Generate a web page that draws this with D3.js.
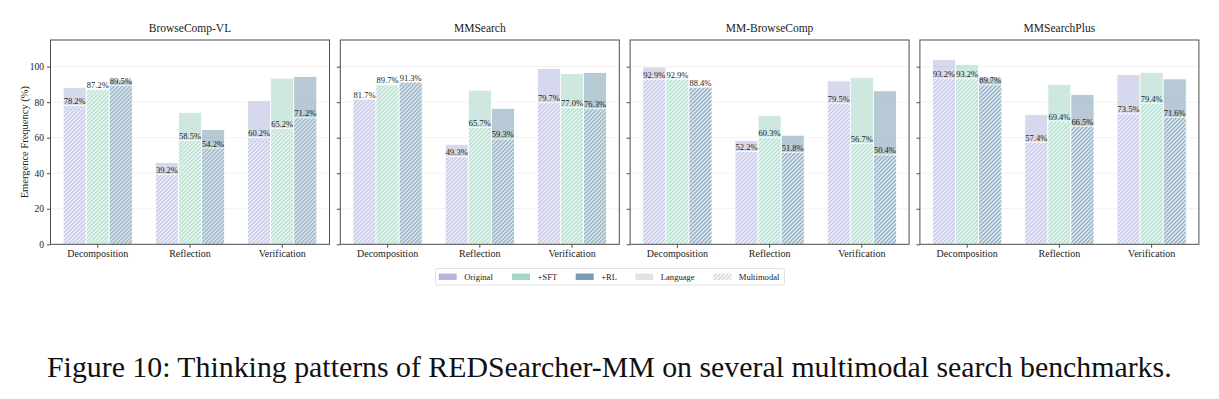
<!DOCTYPE html>
<html lang="en">
  <head>
    <meta charset="utf-8" />
    <title>Thinking patterns of REDSearcher-MM</title>
    <script src="https://cdn.jsdelivr.net/npm/d3@7"></script>
    <style>
      body {
        margin: 0;
        background: #fff;
      }
      svg,
      svg text {
        font-family: "Liberation Serif", "DejaVu Serif", serif;
      }
      .axis path,
      .axis line {
        stroke: #4d4d4d;
      }
      .axis text {
        font-family: "Liberation Serif", serif;
        font-size: 9.5px;
        fill: #222;
      }
    </style>
  </head>

  <body>
    <svg id="chart"></svg>

    <script>
      const benchmarks = ["BrowseComp-VL", "MMSearch", "MM-BrowseComp", "MMSearchPlus"];
      const categories = ["Decomposition", "Reflection", "Verification"];
      const methods = ["Original", "+SFT", "+RL"];
      const yTicks = [0, 20, 40, 60, 80, 100];

      // [category][method] — language (light bar) and multimodal (hatched, labelled)
      const browseCompVLLanguage = [[88.2, 87.5, 92.5], [46.1, 74.1, 64.6], [80.8, 93.5, 94.4]];
      const browseCompVLMultimodal = [[78.2, 87.2, 89.5], [39.2, 58.5, 54.2], [60.2, 65.2, 71.2]];

      const mmSearchLanguage = [[82.1, 89.8, 91.5], [56.1, 86.8, 76.5], [98.9, 96.1, 96.7]];
      const mmSearchMultimodal = [[81.7, 89.7, 91.3], [49.3, 65.7, 59.3], [79.7, 77.0, 76.3]];

      const mmBrowseCompLanguage = [[99.8, 93.3, 88.8], [58.4, 72.6, 61.4], [92.0, 94.0, 86.4]];
      const mmBrowseCompMultimodal = [[92.9, 92.9, 88.4], [52.2, 60.3, 51.8], [79.5, 56.7, 50.4]];

      const mmSearchPlusLanguage = [[104.1, 101.1, 93.7], [73.1, 90.1, 84.3], [95.5, 96.8, 93.1]];
      const mmSearchPlusMultimodal = [[93.2, 93.2, 89.7], [57.4, 69.4, 66.5], [73.5, 79.4, 71.6]];

      const languageData = [browseCompVLLanguage, mmSearchLanguage, mmBrowseCompLanguage, mmSearchPlusLanguage];
      const multimodalData = [browseCompVLMultimodal, mmSearchMultimodal, mmBrowseCompMultimodal, mmSearchPlusMultimodal];

      const colors = ["#b5b9df", "#a6d6c4", "#7a9cb3"];

      const W = 1219;
      const H = 399;
      const panel = { left: 50.5, top: 40, width: 279, height: 204.3, step: 289.8 };

      const svg = d3.select("#chart").attr("width", W).attr("height", H);

      // hatch patterns
      const defs = svg.append("defs");
      function hatch(id, base) {
        const p = defs
          .append("pattern")
          .attr("id", id)
          .attr("patternUnits", "userSpaceOnUse")
          .attr("width", 4)
          .attr("height", 4);
        p.append("rect").attr("width", 4).attr("height", 4).attr("fill", "#fff");
        p.append("rect").attr("width", 4).attr("height", 4).attr("fill", base).attr("fill-opacity", 0.78);
        p.append("path")
          .attr("d", "M-1,1 l2,-2 M0,4 l4,-4 M3,5 l2,-2")
          .attr("stroke", "#fff")
          .attr("stroke-width", 1.2)
          .attr("stroke-opacity", 0.9);
      }
      colors.forEach((c, i) => hatch("hatch" + i, c));
      hatch("hatchGray", "#d0d0d0");

      const y = d3.scaleLinear().domain([0, 115]).range([panel.height, 0]);
      const x = d3.scaleBand().domain(categories).range([0, panel.width]).paddingInner(0.25).paddingOuter(0.1375);
      const xm = d3.scaleBand().domain(methods).range([0, x.bandwidth()]);

      benchmarks.forEach((name, bi) => {
        const g = svg
          .append("g")
          .attr("transform", `translate(${panel.left + bi * panel.step},${panel.top})`);

        // faint grid
        g.selectAll("line.grid")
          .data(yTicks.slice(1))
          .join("line")
          .attr("class", "grid")
          .attr("x1", 0)
          .attr("x2", panel.width)
          .attr("y1", d => y(d))
          .attr("y2", d => y(d))
          .attr("stroke", "#eeeeee")
          .attr("stroke-width", 0.8);

        const cells = [];
        categories.forEach((cat, ci) => {
          methods.forEach((m, mi) => {
            cells.push({
              cat,
              m,
              mi,
              lang: languageData[bi][ci][mi],
              mm: multimodalData[bi][ci][mi]
            });
          });
        });

        const bx = d => x(d.cat) + xm(d.m);

        // language bars (light)
        g.selectAll("rect.lang")
          .data(cells)
          .join("rect")
          .attr("class", "lang")
          .attr("x", bx)
          .attr("width", xm.bandwidth())
          .attr("y", d => y(d.lang))
          .attr("height", d => y(0) - y(d.lang))
          .attr("fill", d => colors[d.mi])
          .attr("fill-opacity", 0.55)
          .attr("stroke", "#fff")
          .attr("stroke-width", 0.8);

        // multimodal bars (hatched)
        g.selectAll("rect.mm")
          .data(cells)
          .join("rect")
          .attr("class", "mm")
          .attr("x", bx)
          .attr("width", xm.bandwidth())
          .attr("y", d => y(d.mm))
          .attr("height", d => y(0) - y(d.mm))
          .attr("fill", d => `url(#hatch${d.mi})`)
          .attr("stroke", "#fff")
          .attr("stroke-width", 0.8);

        // labels
        g.selectAll("text.val")
          .data(cells)
          .join("text")
          .attr("class", "val")
          .attr("x", d => bx(d) + xm.bandwidth() / 2)
          .attr("y", d => y(d.mm) - 1.5)
          .attr("text-anchor", "middle")
          .attr("font-size", 8.5)
          .attr("fill", "#222")
          .text(d => d.mm.toFixed(1) + "%");

        // frame
        g.append("rect")
          .attr("width", panel.width)
          .attr("height", panel.height)
          .attr("fill", "none")
          .attr("stroke", "#4d4d4d")
          .attr("stroke-width", 1);

        const yaxis = d3.axisLeft(y).tickValues(yTicks).tickSize(3.5).tickPadding(3);
        const gy = g.append("g").attr("class", "axis").call(yaxis);
        gy.attr("font-family", null);
        gy.select(".domain").remove();
        if (bi > 0) gy.selectAll("text").remove();

        const xaxis = d3.axisBottom(x).tickSize(3.5).tickPadding(2);
        const gx = g.append("g").attr("class", "axis").attr("transform", `translate(0,${panel.height})`).call(xaxis);
        gx.attr("font-family", null);
        gx.select(".domain").remove();
        gx.selectAll("text").style("font-size", "10px");

        g.append("text")
          .attr("x", panel.width / 2)
          .attr("y", -8)
          .attr("text-anchor", "middle")
          .attr("font-size", 11.5)
          .attr("fill", "#222")
          .text(name);
      });

      // y label
      svg.append("text")
        .attr("transform", `translate(28,${panel.top + panel.height / 2}) rotate(-90)`)
        .attr("text-anchor", "middle")
        .attr("font-size", 10.5)
        .attr("fill", "#222")
        .text("Emergence Frequency (%)");

      // legend
      const legendItems = [
        { label: "Original", fill: colors[0] },
        { label: "+SFT", fill: colors[1] },
        { label: "+RL", fill: colors[2] },
        { label: "Language", fill: "#e3e3e3" },
        { label: "Multimodal", fill: "url(#hatchGray)" }
      ];
      const legendX = [438.7, 512, 575.7, 635.3, 713.3];
      const lg = svg.append("g");
      lg.append("rect")
        .attr("x", 435.5)
        .attr("y", 268.5)
        .attr("width", 349)
        .attr("height", 16.5)
        .attr("rx", 2)
        .attr("fill", "#fff")
        .attr("stroke", "#d9d9d9")
        .attr("stroke-width", 0.8);
      legendItems.forEach((d, i) => {
        lg.append("rect")
          .attr("x", legendX[i])
          .attr("y", 273.5)
          .attr("width", 18)
          .attr("height", 6.5)
          .attr("fill", d.fill);
        lg.append("text")
          .attr("x", legendX[i] + 25.5)
          .attr("y", 280)
          .attr("font-size", 8.6)
          .attr("fill", "#222")
          .text(d.label);
      });

      // caption
      const cap = svg.append("text")
        .attr("x", 47)
        .attr("y", 377)
        .attr("font-size", 27)
        .attr("fill", "#111")
        .text("Figure 10: Thinking patterns of REDSearcher-MM on several multimodal search benchmarks.");
      const cw = cap.node().getComputedTextLength();
      cap.attr("font-size", 27 * 1125 / cw);
    </script>
  </body>
</html>
